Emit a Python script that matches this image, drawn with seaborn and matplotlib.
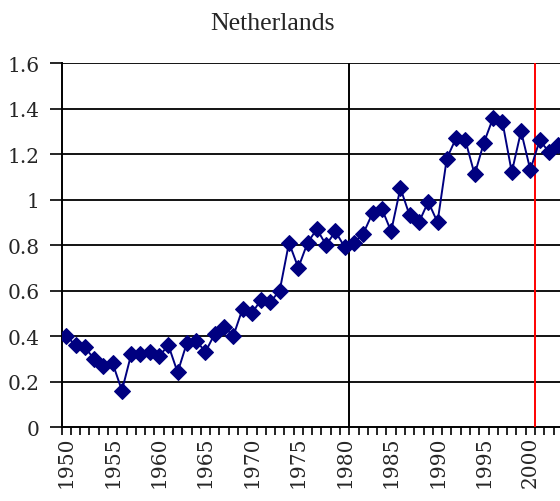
import matplotlib
matplotlib.use("Agg")
import matplotlib.pyplot as plt
import seaborn as sns
import pandas as pd

# Annual series, Netherlands
years = list(range(1950, 2004))
values = [0.40, 0.36, 0.35, 0.30, 0.27, 0.28, 0.16, 0.32, 0.32, 0.33,
          0.31, 0.36, 0.24, 0.37, 0.38, 0.33, 0.41, 0.44, 0.40, 0.52,
          0.50, 0.56, 0.55, 0.60, 0.81, 0.70, 0.81, 0.87, 0.80, 0.86,
          0.79, 0.81, 0.85, 0.94, 0.96, 0.86, 1.05, 0.93, 0.90, 0.99,
          0.90, 1.18, 1.27, 1.26, 1.11, 1.25, 1.36, 1.34, 1.12, 1.30,
          1.13, 1.26, 1.21, 1.24]
label_years = list(range(1950, 2001, 5))
y_ticks = [0, 0.2, 0.4, 0.6, 0.8, 1.0, 1.2, 1.4, 1.6]
y_labels = ["0", "0.2", "0.4", "0.6", "0.8", "1", "1.2", "1.4", "1.6"]
title = "Netherlands"

df = pd.DataFrame({"year": years, "value": values})

sns.set_theme(style="white")
plt.rcParams["font.family"] = ["Liberation Serif", "DejaVu Serif"]

fig = plt.figure(figsize=(5.6, 5.02), dpi=100)
ax = fig.add_axes([0.110, 0.1474, 0.89, 0.7251])

navy = "#000080"
sns.lineplot(data=df, x="year", y="value", ax=ax, color=navy, linewidth=1.4,
             marker="D", markersize=8, markeredgecolor=navy,
             markerfacecolor=navy, zorder=5)

# reference lines at 1980 and 2000
ax.axvline(1980.5, color="black", linewidth=1.4, zorder=3)
ax.axvline(2000.5, color="#ff0000", linewidth=1.4, zorder=3)

ax.set_xlim(1949.5, 1949.5 + 498.3 / 9.28)
ax.set_ylim(0, 1.6)

tick_font = {"family": "DejaVu Serif", "size": 14.5}

ax.set_yticks(y_ticks)
ax.set_yticklabels(y_labels, fontdict=tick_font)
for yv in y_ticks[1:]:
    ax.axhline(yv, color="black", linewidth=1.3, zorder=2)

ax.set_xticks(label_years)
ax.set_xticklabels([str(y) for y in label_years], rotation=90,
                   fontdict=tick_font)
ax.set_xticks([y - 0.5 for y in years], minor=True)
ax.tick_params(axis="x", which="major", length=0, pad=6)
ax.tick_params(axis="x", which="minor", length=6, width=1.2, color="black",
               direction="out", bottom=True)
ax.tick_params(axis="y", which="major", length=9, width=1.2, color="black",
               direction="out", left=True, pad=7)

ax.set_xlabel("")
ax.set_ylabel("")
for side in ["top", "right"]:
    ax.spines[side].set_visible(False)
for side in ["left", "bottom"]:
    ax.spines[side].set_color("black")
    ax.spines[side].set_linewidth(1.4)

fig.text(0.486, 0.953, title, ha="center", va="center", fontsize=18.5)

fig.savefig("out.png", dpi=100)
